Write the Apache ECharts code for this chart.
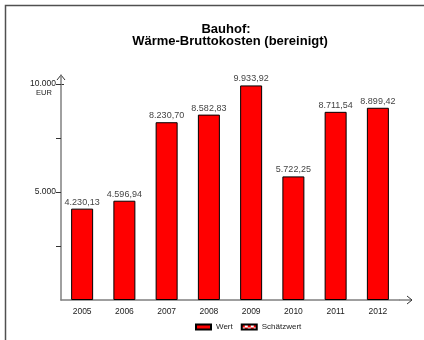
<!DOCTYPE html>
<html>
<head>
<meta charset="utf-8">
<script src="https://cdn.jsdelivr.net/npm/echarts@6/dist/echarts.min.js"></script>
<style>html,body{margin:0;padding:0;background:#fff}#c{width:424px;height:340px}</style>
</head>
<body>
<div id="c"></div>
<script>
var categories = ['2005','2006','2007','2008','2009','2010','2011','2012'];
var wertValues = [4230.13, 4596.94, 8230.70, 8582.83, 9933.92, 5722.25, 8711.54, 8899.42];
var schaetzValues = [];
var yLabelValues = [5000, 10000];
var yTickValues = [2500, 5000, 7500, 10000];
var legendNames = ['Wert', 'Schätzwert'];

function deFmt(v, dec) {
  var s = v.toFixed(dec);
  var parts = s.split('.');
  var ip = parts[0].replace(/\B(?=(\d{3})+(?!\d))/g, '.');
  return dec > 0 ? ip + ',' + parts[1] : ip;
}

var pc = document.createElement('canvas');
pc.width = 6; pc.height = 6;
var g = pc.getContext('2d');
g.fillStyle = '#ffffff'; g.fillRect(0,0,6,6);
g.fillStyle = '#ff0000';
g.fillRect(0,0,3,3); g.fillRect(3,3,3,3);

var font = 'Liberation Sans, Arial, sans-serif';
var chart = echarts.init(document.getElementById('c'), null, {renderer:'canvas'});
chart.setOption({
  animation: false,
  backgroundColor: '#fff',
  title: [
    {text: 'Bauhof:', left: 221, top: 18, textAlign: 'center',
     textStyle: {fontFamily: font, fontSize: 13, fontWeight: 'bold', color: '#000'}},
    {text: 'Wärme-Bruttokosten (bereinigt)', left: 225, top: 30, textAlign: 'center',
     textStyle: {fontFamily: font, fontSize: 13, fontWeight: 'bold', color: '#000'}}
  ],
  grid: {left: 61, right: 25, top: 75, bottom: 40, containLabel: false},
  legend: {
    data: legendNames, left: 190, top: 318, itemWidth: 15, itemHeight: 5, itemGap: 8,
    icon: 'rect',
    textStyle: {fontFamily: font, fontSize: 8, color: '#222'}
  },
  xAxis: {
    type: 'category', data: categories,
    axisLine: {lineStyle: {color: '#808080', width: 1.5}},
    axisTick: {alignWithLabel: true, length: 4, lineStyle: {color: '#333'}},
    axisLabel: {fontFamily: font, fontSize: 8.5, color: '#222', margin: 7}
  },
  yAxis: {
    type: 'value', min: 0, max: 10417,
    splitLine: {show: false},
    axisLine: {show: true, lineStyle: {color: '#808080', width: 1.5}},
    axisTick: {show: true, length: 5, customValues: yTickValues, lineStyle: {color: '#333'}},
    axisLabel: {customValues: yLabelValues, fontFamily: font, fontSize: 8.5, color: '#222', margin: 5,
      formatter: function(v){ return deFmt(v, 0); }}
  },
  series: [
    {name: 'Wert', type: 'bar', data: wertValues, barWidth: 22, barGap: '-100%',
     itemStyle: {color: '#ff0000', borderColor: '#000', borderWidth: 1},
     label: {show: true, position: 'top', distance: 2, fontFamily: font, fontSize: 9, color: '#444',
       formatter: function(p){ return deFmt(p.value, 2); }}},
    {name: 'Schätzwert', type: 'bar', data: schaetzValues, barWidth: 22,
     itemStyle: {color: {image: pc, repeat: 'repeat'}, borderColor: '#000', borderWidth: 1}}
  ],
  graphic: [
    {type: 'rect', shape: {x: 5.5, y: 5.5, width: 600, height: 600}, silent: true,
     style: {fill: null, stroke: '#505050', lineWidth: 1.5}},
    {type: 'text', x: 44, y: 93, style: {text: 'EUR', fontFamily: font, fontSize: 7.5, fill: '#222', textAlign: 'center', textVerticalAlign: 'middle'}},
    {type: 'line', shape: {x1: 399, y1: 300, x2: 412, y2: 300}, style: {stroke: '#808080', lineWidth: 1.5}},
    {type: 'polyline', shape: {points: [[407,296],[412,300],[407,304]]}, style: {stroke: '#333', lineWidth: 1, fill: null}},
    {type: 'polyline', shape: {points: [[57,80],[61,75],[65,80]]}, style: {stroke: '#333', lineWidth: 1, fill: null}},
    {type: 'line', shape: {x1: 61, y1: 84.5, x2: 64, y2: 84.5}, style: {stroke: '#333', lineWidth: 1}}
  ]
});
</script>
</body>
</html>
